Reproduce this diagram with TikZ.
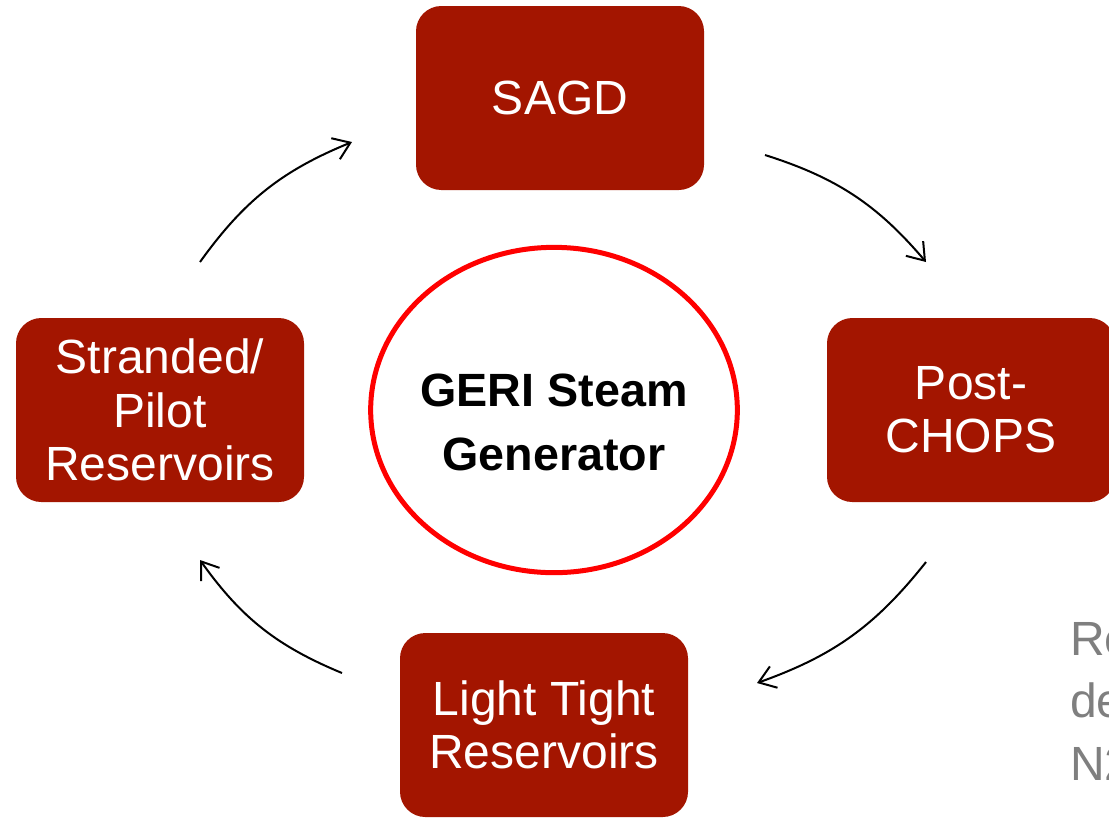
\documentclass[tikz,border=0pt]{standalone}
\usepackage{fontspec}
\setmainfont{Liberation Sans}
\usetikzlibrary{arrows.meta,shapes.geometric}
\definecolor{boxred}{HTML}{A31500}
\definecolor{ringred}{HTML}{FF0000}
\definecolor{graytext}{HTML}{7F7F7F}
\begin{document}
\begin{tikzpicture}[x=0.75pt,y=-0.75pt,
  stage/.style={rectangle, rounded corners=19pt, fill=boxred, text=white,
    minimum width=216pt, minimum height=138pt, align=center, inner sep=0pt,
    font=\fontsize{36}{40}\selectfont},
  hub/.style={ellipse, draw=ringred, line width=3.75pt, fill=white,
    minimum width=275pt, minimum height=244pt, inner sep=0pt},
  hubtext/.style={align=center, inner sep=0pt,
    font=\fontsize{35}{48}\selectfont\bfseries},
  flow/.style={-{Straight Barb[length=12pt,width=17pt]}, line width=1.5pt, bend left=16},
  note/.style={anchor=north west, align=left, text=graytext, inner sep=0pt,
    font=\fontsize{36}{47}\selectfont}]
\useasboundingbox (0,0) rectangle (1109,819);
\clip (0,0) rectangle (1109,819);
\node[stage] (sagd) at (560,98) {SAGD};
\node[stage] (chops) at (971,410) {Post-\\CHOPS};
\node[stage] (strand) at (160,410) {Stranded/\\Pilot\\Reservoirs};
\node[stage] (tight) at (544,725) {Light Tight\\Reservoirs};
\node[hub] (geri) at (554,410) {};
\node[hubtext] (geritext) at (554,422) {GERI Steam\\Generator};
\node[note] (note) at (1070,622) {Re\\de\\N2};
\coordinate (a1s) at (200,262);
\coordinate (a1e) at (352,142);
\coordinate (a2s) at (765,155);
\coordinate (a2e) at (926,262);
\coordinate (a3s) at (926,562);
\coordinate (a3e) at (757,683);
\coordinate (a4s) at (342,673);
\coordinate (a4e) at (200,560);
\draw[flow] (a1s) to (a1e);
\draw[flow] (a2s) to (a2e);
\draw[flow] (a3s) to (a3e);
\draw[flow] (a4s) to (a4e);
\end{tikzpicture}
\end{document}
